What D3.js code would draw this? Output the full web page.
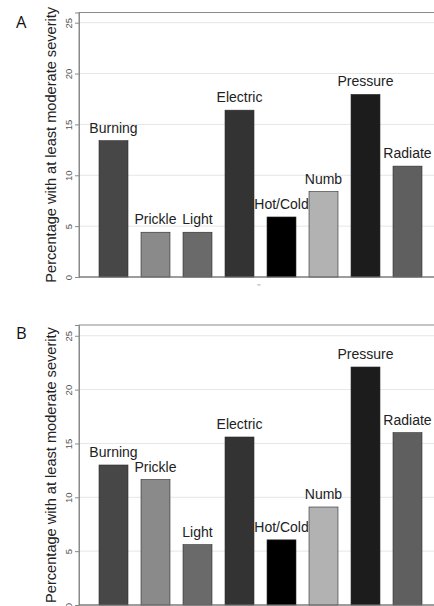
<!DOCTYPE html>
<html>
<head>
<meta charset="utf-8">
<script src="https://cdn.jsdelivr.net/npm/d3@7"></script>
<style>
  html, body { margin: 0; padding: 0; background: #fff; }
  svg { display: block; }
</style>
</head>
<body>
<svg id="chart" width="434" height="606"></svg>
<script>
const categories = ["Burning", "Prickle", "Light", "Electric", "Hot/Cold", "Numb", "Pressure", "Radiate"];
const valuesA = [13.4, 4.4, 4.4, 16.4, 5.9, 8.4, 17.95, 10.9];
const valuesB = [13.0, 11.65, 5.6, 15.6, 6.05, 9.1, 22.1, 16.0];
const barColors = ["#474747", "#8a8a8a", "#6a6a6a", "#333333", "#000000", "#b2b2b2", "#1c1c1c", "#5f5f5f"];
const yTicks = [0, 5, 10, 15, 20, 25];
const yTitle = "Percentage with at least moderate severity";
const panelLabels = ["A", "B"];

const svg = d3.select("#chart");

const x = d3.scaleBand()
  .domain(categories)
  .range([92.5, 428.5])
  .paddingInner(0.31)
  .paddingOuter(0.155);

const panels = [
  { label: panelLabels[0], values: valuesA, top: 12.5, zero: 277, labelY: 28, xMark: true },
  { label: panelLabels[1], values: valuesB, top: 325, zero: 605, labelY: 339, xMark: false }
];

const plotLeft = 79;
const plotRight = 440;

panels.forEach(p => {
  const g = svg.append("g");
  const y = d3.scaleLinear().domain([0, 26]).range([p.zero, p.top]);

  // gridlines
  g.append("g")
    .selectAll("line")
    .data(yTicks.filter(t => t > 0))
    .join("line")
    .attr("x1", plotLeft).attr("x2", plotRight)
    .attr("y1", d => y(d)).attr("y2", d => y(d))
    .attr("stroke", "#e6e6e6").attr("stroke-width", 1);

  // frame
  g.append("rect")
    .attr("x", plotLeft).attr("y", p.top)
    .attr("width", plotRight - plotLeft).attr("height", p.zero - p.top)
    .attr("fill", "none").attr("stroke", "#8a8a8a").attr("stroke-width", 1);

  // y axis
  const yAxis = d3.axisLeft(y).tickValues(yTicks).tickSize(4).tickPadding(3);
  const ax = g.append("g").attr("transform", `translate(${plotLeft},0)`).call(yAxis);
  ax.select(".domain").attr("stroke", "#8a8a8a");
  ax.selectAll(".tick line").attr("stroke", "#8a8a8a");
  ax.selectAll(".tick text")
    .attr("x", 0).attr("dy", null)
    .attr("transform", "translate(-7,0) rotate(-90)")
    .attr("text-anchor", "middle")
    .attr("fill", "#555")
    .style("font-family", "Liberation Sans, Arial, sans-serif")
    .style("font-size", "9.5px");

  // bars
  g.append("g")
    .selectAll("rect")
    .data(categories)
    .join("rect")
    .attr("x", d => x(d))
    .attr("width", x.bandwidth())
    .attr("y", (d, i) => y(p.values[i]))
    .attr("height", (d, i) => y(0) - y(p.values[i]))
    .attr("fill", (d, i) => barColors[i])
    .attr("stroke", "#2a2a2a").attr("stroke-width", 0.6);

  // baseline
  g.append("line")
    .attr("x1", plotLeft).attr("x2", plotRight)
    .attr("y1", y(0)).attr("y2", y(0))
    .attr("stroke", "#777").attr("stroke-width", 1.2);

  // bar labels
  g.append("g")
    .selectAll("text")
    .data(categories)
    .join("text")
    .attr("x", d => x(d) + x.bandwidth() / 2)
    .attr("y", (d, i) => y(p.values[i]) - 8)
    .attr("text-anchor", "middle")
    .attr("fill", "#222")
    .style("font-family", "Liberation Sans, Arial, sans-serif")
    .style("font-size", "14px")
    .text(d => d);

  // y title
  g.append("text")
    .attr("transform", `translate(56,${(p.top + p.zero) / 2}) rotate(-90)`)
    .attr("text-anchor", "middle")
    .attr("fill", "#222")
    .style("font-family", "Liberation Sans, Arial, sans-serif")
    .style("font-size", "14.6px")
    .text(yTitle);

  // panel label
  g.append("text")
    .attr("x", 16).attr("y", p.labelY)
    .attr("fill", "#111")
    .style("font-family", "Open Sans, sans-serif")
    .style("font-size", "16.5px")
    .text(p.label);

  if (p.xMark) {
    g.append("text")
      .attr("x", (plotLeft + plotRight) / 2 - 0.5).attr("y", p.zero + 9)
      .attr("text-anchor", "middle")
      .attr("fill", "#999")
      .style("font-family", "Liberation Sans, Arial, sans-serif")
      .style("font-size", "4px")
      .text("m");
  }
});
</script>
</body>
</html>
